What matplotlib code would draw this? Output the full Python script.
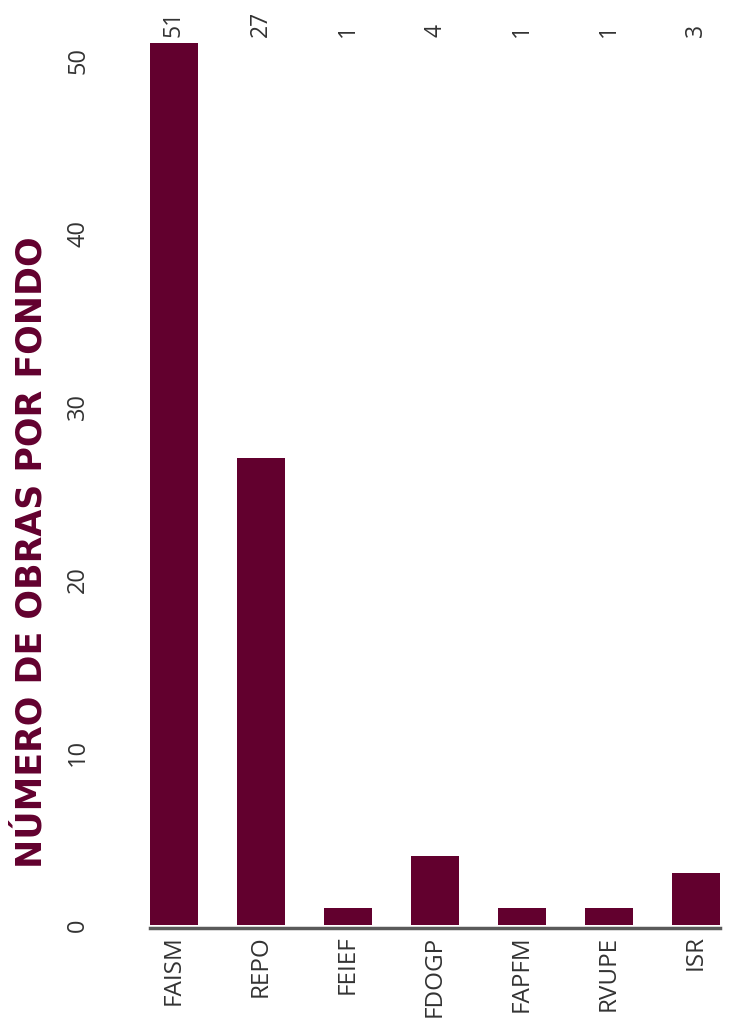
import matplotlib
matplotlib.use('Agg')
import matplotlib.pyplot as plt

# Obras por fondo
fondos = ['FAISM', 'REPO', 'FEIEF', 'FDOGP', 'FAPFM', 'RVUPE', 'ISR']
obras = [51, 27, 1, 4, 1, 1, 3]
yticks = [0, 10, 20, 30, 40, 50]

bar_color = '#62002E'
title_color = '#62002E'

plt.rcParams['font.family'] = ['Open Sans', 'DejaVu Sans']

fig = plt.figure(figsize=(7.31, 10.23), dpi=100)
ax = fig.add_axes([150 / 731, 98 / 1023, 570 / 731, 925 / 1023])

for side in ['top', 'right', 'left']:
    ax.spines[side].set_visible(False)
ax.spines['bottom'].set_position(('data', -0.2))
ax.spines['bottom'].set_color('#5a5a5a')
ax.spines['bottom'].set_linewidth(2.5)

x = range(len(fondos))
ax.bar(x, obras, width=0.55, color=bar_color, zorder=2)

ax.set_xlim(-0.275, len(fondos) - 1 + 0.275)
ax.set_ylim(0, 53.5)

ax.set_xticks(list(x))
ax.set_xticklabels(fondos, rotation=90, fontsize=17.5, color='#333333', va='top')
ax.set_yticks(yticks)
ax.set_yticklabels([str(v) for v in yticks], rotation=90, fontsize=17,
                   color='#333333', va='center')
ax.tick_params(axis='x', length=0, pad=5)
ax.tick_params(axis='y', length=0, pad=43)

# valores arriba de cada barra, todos a la misma altura
for i, v in enumerate(obras):
    ax.text(i, 51.35, str(v), rotation=90, ha='center', va='bottom',
            fontsize=16.5, color='#333333', clip_on=False)

fig.text(32 / 731, 1 - 552 / 1023, 'NÚMERO DE OBRAS POR FONDO', rotation=90,
         ha='center', va='center', fontsize=25, fontweight='bold',
         family='DejaVu Sans', color=title_color)

fig.savefig('out.png', dpi=100, facecolor='white')
